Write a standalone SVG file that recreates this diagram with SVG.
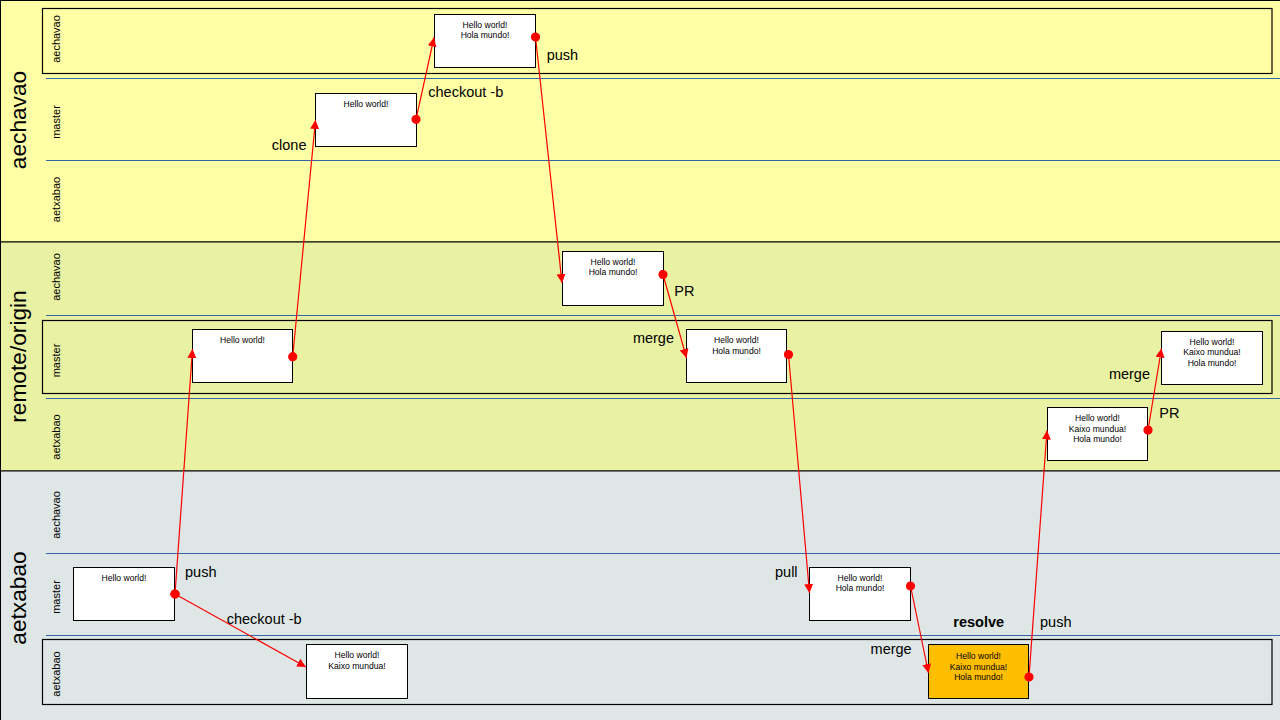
<svg xmlns="http://www.w3.org/2000/svg" width="1280" height="720" viewBox="0 0 1280 720">
<defs>
<style>
.pool{stroke:#000;stroke-width:1}
.lane{stroke:#3465A4;stroke-width:1}
.hl{fill:none;stroke:#000;stroke-width:1.2}
.pl{font-family:"Liberation Sans",Arial,sans-serif;font-size:22.7px;fill:#000;text-anchor:middle}
.ll{font-family:"Liberation Sans",Arial,sans-serif;font-size:11px;fill:#000;text-anchor:middle}
.node rect{fill:#fff;stroke:#000;stroke-width:1}
.node text{font-family:"Liberation Sans",Arial,sans-serif;font-size:8.6px;fill:#000;text-anchor:middle}
.conn line{stroke:#f00;stroke-width:1.2;marker-start:url(#dot);marker-end:url(#arr)}
.lbl{font-family:"Liberation Sans",Arial,sans-serif;font-size:14.5px;fill:#000}
.end{text-anchor:end}
.b{font-weight:bold}
</style>
<marker id="dot" markerUnits="userSpaceOnUse" markerWidth="10" markerHeight="10" refX="5" refY="5" orient="auto"><circle cx="5" cy="5" r="4.6" fill="#f00"/></marker>
<marker id="arr" markerUnits="userSpaceOnUse" markerWidth="10" markerHeight="10" refX="9" refY="4.5" orient="auto"><path d="M0,0 L9,4.5 L0,9 z" fill="#f00"/></marker>
</defs>
<g id="pools">
<rect class="pool" x="0.5" y="0.5" width="1300" height="241.5" fill="#FFFFA6"/>
<rect class="pool" x="0.5" y="242" width="1300" height="229" fill="#E9F2A3"/>
<rect class="pool" x="0.5" y="471" width="1300" height="260" fill="#DEE6E6"/>
<line class="lane" x1="46" y1="78.5" x2="1280" y2="78.5"/>
<line class="lane" x1="46" y1="160.5" x2="1280" y2="160.5"/>
<line class="lane" x1="46" y1="315.5" x2="1280" y2="315.5"/>
<line class="lane" x1="46" y1="398.5" x2="1280" y2="398.5"/>
<line class="lane" x1="46" y1="553.5" x2="1280" y2="553.5"/>
<line class="lane" x1="46" y1="635.5" x2="1280" y2="635.5"/>
<rect class="hl" x="42.5" y="8.5" width="1229.5" height="65"/>
<rect class="hl" x="42.5" y="320.5" width="1229.5" height="73"/>
<rect class="hl" x="42.5" y="639.5" width="1229.5" height="65"/>
<text class="pl" transform="translate(26,120) rotate(-90)">aechavao</text>
<text class="pl" transform="translate(26,356.5) rotate(-90)">remote/origin</text>
<text class="pl" transform="translate(26,598) rotate(-90)">aetxabao</text>
<text class="ll" transform="translate(60,39) rotate(-90)">aechavao</text>
<text class="ll" transform="translate(60,122) rotate(-90)">master</text>
<text class="ll" transform="translate(60,199.5) rotate(-90)">aetxabao</text>
<text class="ll" transform="translate(60,277) rotate(-90)">aechavao</text>
<text class="ll" transform="translate(60,360.5) rotate(-90)">master</text>
<text class="ll" transform="translate(60,437) rotate(-90)">aetxabao</text>
<text class="ll" transform="translate(60,515) rotate(-90)">aechavao</text>
<text class="ll" transform="translate(60,597) rotate(-90)">master</text>
<text class="ll" transform="translate(60,674) rotate(-90)">aetxabao</text>
</g>
<g id="n1" class="node"><rect x="434.5" y="14.5" width="101" height="53"/><text x="485" y="27.5">Hello world!</text><text x="485" y="38">Hola mundo!</text></g>
<g id="n2" class="node"><rect x="315.5" y="93.5" width="101" height="53"/><text x="366" y="106.5">Hello world!</text></g>
<g id="n3" class="node"><rect x="562.5" y="251.5" width="101" height="54"/><text x="613" y="264.5">Hello world!</text><text x="613" y="275">Hola mundo!</text></g>
<g id="n4" class="node"><rect x="192.5" y="329.5" width="100" height="53"/><text x="242.5" y="343">Hello world!</text></g>
<g id="n5" class="node"><rect x="686.5" y="329.5" width="100" height="53"/><text x="736.5" y="343">Hello world!</text><text x="736.5" y="353.5">Hola mundo!</text></g>
<g id="n6" class="node"><rect x="1161.5" y="331.5" width="101" height="53"/><text x="1212" y="344.5">Hello world!</text><text x="1212" y="355">Kaixo mundua!</text><text x="1212" y="365.5">Hola mundo!</text></g>
<g id="n7" class="node"><rect x="1047.5" y="407.5" width="100" height="53"/><text x="1097.5" y="421">Hello world!</text><text x="1097.5" y="431.5">Kaixo mundua!</text><text x="1097.5" y="442">Hola mundo!</text></g>
<g id="n8" class="node"><rect x="73.5" y="567.5" width="101" height="53"/><text x="124" y="580.5">Hello world!</text></g>
<g id="n9" class="node"><rect x="306.5" y="644.5" width="101" height="54"/><text x="357" y="658">Hello world!</text><text x="357" y="668.5">Kaixo mundua!</text></g>
<g id="n10" class="node"><rect x="809.5" y="567.5" width="101" height="53"/><text x="860" y="580.5">Hello world!</text><text x="860" y="591">Hola mundo!</text></g>
<g id="n11" class="node"><rect x="928.5" y="644.5" width="100" height="54" style="fill:#FFBF00"/><text x="978.5" y="659">Hello world!</text><text x="978.5" y="669.5">Kaixo mundua!</text><text x="978.5" y="680">Hola mundo!</text></g>
<g id="connectors" class="conn">
<line x1="175" y1="594" x2="192.5" y2="349"/>
<line x1="175" y1="594" x2="306" y2="667"/>
<line x1="292.7" y1="356.7" x2="315.5" y2="120"/>
<line x1="416" y1="119.3" x2="434" y2="37.5"/>
<line x1="535.5" y1="37" x2="562" y2="283"/>
<line x1="663" y1="274.5" x2="686.5" y2="358"/>
<line x1="788.5" y1="354.5" x2="809.5" y2="593"/>
<line x1="910.5" y1="586" x2="928.5" y2="673"/>
<line x1="1029" y1="677" x2="1047" y2="430.5"/>
<line x1="1148" y1="430" x2="1161.5" y2="348.5"/>
</g>
<g id="labels">
<text class="lbl end" x="306.5" y="150">clone</text>
<text class="lbl" x="428.3" y="97">checkout -b</text>
<text class="lbl" x="546.7" y="60">push</text>
<text class="lbl" x="674.3" y="296">PR</text>
<text class="lbl end" x="674" y="342.5">merge</text>
<text class="lbl" x="185" y="577.3">push</text>
<text class="lbl" x="226.7" y="623.5">checkout -b</text>
<text class="lbl" x="775" y="577">pull</text>
<text class="lbl end" x="911.7" y="653.5">merge</text>
<text class="lbl b" x="953.3" y="626.5">resolve</text>
<text class="lbl" x="1040" y="626.5">push</text>
<text class="lbl" x="1159.3" y="418">PR</text>
<text class="lbl end" x="1150" y="378.5">merge</text>
</g>
</svg>
